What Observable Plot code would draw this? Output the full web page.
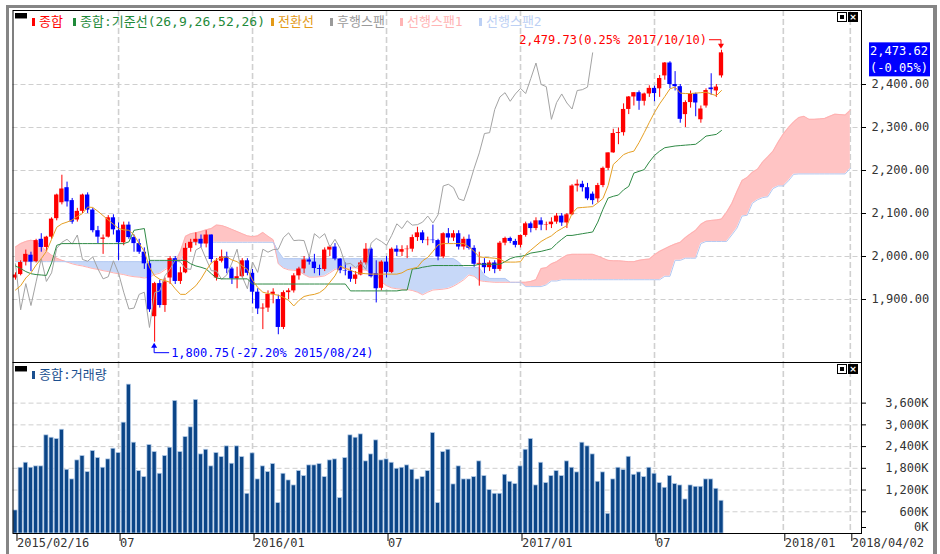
<!DOCTYPE html>
<html><head><meta charset="utf-8">
<script src="https://cdn.jsdelivr.net/npm/d3@7"></script>
<script src="https://cdn.jsdelivr.net/npm/@observablehq/plot@0.6"></script>
<style>
body{margin:0;background:#fff;}
#wrap{position:relative;width:940px;height:554px;overflow:hidden;background:#fff;font-family:"Noto Sans CJK KR",sans-serif;}
#wrap svg{position:absolute;left:0;}
.gframe{position:absolute;left:6px;top:5px;width:924px;height:600px;border-left:3px solid #858585;border-top:3px solid #858585;border-right:4px solid #858585;}
.leg{position:absolute;font-family:"DejaVu Sans Mono","Noto Sans CJK KR",monospace;font-size:13px;line-height:14px;white-space:nowrap;}
.mk{position:absolute;width:3px;height:8px;}
.icon{position:absolute;width:12px;height:5px;background:#000;border-bottom:1px solid #888;}
.btn{position:absolute;width:8px;height:8px;border:1px solid #000;background:#fff;}
.btn i{position:absolute;left:2px;top:2px;width:4px;height:4px;background:#000;}
.btnx{position:absolute;width:10px;height:10px;background:#000;color:#fff;font:bold 9px/10px "DejaVu Sans";text-align:center;}
</style></head><body><div id="wrap"><div class="gframe"></div></div>
<script>
// ---- weekly KOSPI candles (index 0 = 2015/02/16 week) ----
const opens = [1950,1958,1987,2003,1988,2040,2021,2045,2088,2125,2160,2130,2085,2105,2143,2108,2060,2040,2045,2090,2060,2032,2073,2044,2030,2010,1983,1860,1937,1886,1950,1995,1942,1962,2019,2033,2040,2029,2050,1950,1989,1999,1971,1948,1953,1990,1961,1917,1878,1880,1912,1900,1835,1916,1920,1955,1971,1992,1987,1972,1970,2015,2022,1994,1967,1966,1947,1957,1985,2017,1960,1926,1987,1963,2017,2010,2016,2017,2044,2055,2037,2038,2037,1999,2053,2043,2053,2022,2040,2019,1982,1984,1974,1985,1970,2031,2042,2035,2026,2049,2076,2065,2083,2073,2074,2080,2094,2078,2097,2164,2168,2160,2145,2134,2165,2205,2241,2286,2288,2342,2371,2381,2361,2378,2391,2390,2420,2450,2400,2395,2330,2358,2378,2318,2350,2392,2385,2420];
const highs = [1962,1990,2015,2010,2040,2053,2047,2090,2145,2189,2173,2135,2112,2145,2148,2112,2070,2050,2095,2097,2078,2080,2080,2050,2040,2020,1990,1940,1945,1950,2000,2000,1975,2030,2040,2055,2050,2060,2050,1995,2015,2010,1975,1975,1995,1995,1970,1925,1890,1920,1925,1910,1920,1925,1960,1975,2000,2000,2005,1980,2020,2025,2030,1995,1985,1975,1965,1990,2030,2020,1990,1990,2000,2020,2025,2025,2025,2050,2068,2060,2045,2073,2040,2055,2065,2060,2060,2045,2050,2025,2010,1995,1990,1990,2035,2045,2045,2040,2050,2080,2080,2090,2090,2080,2090,2100,2100,2100,2167,2178,2175,2170,2150,2170,2208,2241,2296,2299,2355,2372,2381,2385,2380,2397,2396,2421,2451,2453,2430,2400,2362,2385,2380,2350,2390,2425,2400,2479.73];
const lows = [1945,1955,1978,1965,1985,2010,2012,2040,2083,2120,2115,2075,2080,2100,2100,2055,2030,2005,2043,2050,1990,2025,2040,2010,2005,1970,1870,1800.75,1880,1870,1935,1935,1935,1960,2010,2025,2020,2020,1985,1943,1985,1960,1935,1925,1950,1955,1890,1865,1830,1870,1890,1818,1830,1900,1915,1945,1960,1980,1960,1955,1965,2000,1990,1960,1955,1940,1935,1955,1980,1950,1892,1920,1950,1960,2000,2000,1995,2010,2035,2030,2025,2030,1990,1995,2030,2035,2015,2015,2015,1975,1931,1960,1965,1960,1965,2025,2030,2020,2020,2045,2055,2060,2060,2060,2065,2075,2070,2065,2095,2150,2150,2130,2120,2125,2160,2200,2240,2260,2280,2330,2350,2340,2350,2370,2360,2370,2410,2390,2385,2310,2300,2345,2325,2310,2345,2375,2370,2415];
const closes = [1957,1986,2005,1987,2037,2021,2045,2087,2143,2157,2127,2080,2105,2143,2108,2060,2045,2043,2090,2062,2032,2073,2044,2030,2010,1983,1876,1937,1886,1941,1995,1942,1962,2019,2033,2040,2029,2050,1993,1989,1999,1971,1948,1953,1990,1961,1917,1878,1880,1912,1917,1835,1916,1920,1955,1971,1992,1987,1972,1970,2015,2022,1994,1967,1966,1947,1957,1985,2017,1953,1925,1987,1963,2017,2010,2016,2017,2044,2055,2037,2038,2037,1999,2053,2043,2053,2022,2040,2019,1982,1984,1974,1985,1970,2031,2042,2035,2026,2049,2076,2065,2083,2073,2074,2080,2094,2078,2097,2164,2168,2160,2134,2130,2165,2205,2241,2286,2288,2342,2371,2381,2361,2378,2391,2379,2414,2450,2400,2395,2319,2358,2378,2357,2343,2386,2388,2394,2473.62];
// weekly volume, thousands of shares
const volumes = [636,1816,1954,1816,1853,1853,2710,2645,2608,2866,1760,1493,2018,2138,1695,2276,2082,1816,2046,2341,2221,3061,4111,2508,1723,1557,2442,2248,1650,2138,2369,3659,2248,2663,2931,3686,2184,2313,1853,2221,2110,2406,1927,2406,2110,1097,2212,1493,1853,1695,1917,838,1650,1465,1327,1723,1585,1880,1880,1917,1557,2018,2046,977,2082,2710,2645,2737,1991,2184,2571,2018,2046,1954,1788,1816,1880,1760,1493,1557,1723,2774,838,2248,2313,1355,1853,1493,1493,1557,1991,1585,1198,1097,1097,1622,1429,1364,1853,2313,2608,1327,1954,1392,1585,1723,1585,1991,1816,1687,2508,2406,2184,1429,1687,544,1493,1816,1751,2119,1622,1687,1557,1816,1650,1392,1263,1585,1364,1327,940,1327,1290,1290,1493,1493,1235,904];
// Ichimoku lines
const conversion = [1922,1932,1950,1962,1980,1995,2012,2040,2068,2076,2080,2085,2093,2100,2115,2114,2105,2095,2085,2075,2065,2062,2061,2050,2030,2012,1975,1955,1947,1944,1940,1925,1912,1912,1922,1932,1948,1968,1985,1993,1997,1999,1992,1988,1978,1970,1945,1928,1917,1914,1912,1910,1905,1898,1885,1898,1907,1910,1912,1916,1925,1940,1955,1978,1972,1968,1963,1961,1960,1959,1959,1959,1959,1959,1959,1962,1969,1972,1975,1990,1998,2012,2027,2030,2030,2030,2030,2030,2022,2012,1999,1998,1997,1996,1994,1987,1987,1987,1988,2005,2015,2025,2035,2042,2048,2058,2065,2072,2100,2113,2114,2115,2116,2125,2135,2165,2214,2225,2237,2242,2245,2265,2288,2312,2335,2355,2372,2390,2394,2380,2379,2379,2380,2381,2382,2378,2374,2386];
const baseLine = [1978,1972,1965,1960,1958,1957,1956,1985,2026,2030,2030,2030,2030,2030,2030,2030,2030,2030,2030,2030,2030,2030,2034,2061,2063,2065,1991,1991,1991,1991,1991,1991,1991,1991,1983,1978,1975,1971,1960,1950,1948,1948,1948,1948,1948,1948,1936,1936,1936,1936,1936,1936,1936,1936,1936,1936,1936,1936,1936,1936,1936,1936,1936,1936,1936,1920,1920,1920,1920,1920,1920,1920,1920,1920,1920,1922,1922,1971,1972,1975,1977,1979,1979,1979,1979,1979,1979,1979,1979,1979,1982,1982,1982,1982,1982,1988,1995,1999,2000,2003,2008,2010,2012,2015,2018,2030,2040,2049,2049,2051,2053,2055,2057,2080,2110,2136,2140,2143,2155,2163,2194,2198,2202,2220,2235,2245,2253,2255,2257,2258,2259,2260,2261,2270,2280,2282,2284,2293];
const leadingSpan1 = [2022,2030,2035,2038,2035,2025,2012,2003,1996,1991,1987,1983,1980,1978,1975,1972,1970,1967,1965,1962,1960,1958,1955,1953,1952,1950,1952,1958,1961,1969,1976,1984,2012,2047,2053,2055,2058,2062,2065,2073,2072,2068,2063,2058,2053,2048,2046,2048,2056,2047,2039,1983,1973,1969,1968,1966,1958,1952,1952,1953,1955,1962,1970,1973,1972,1973,1974,1970,1968,1963,1959,1941,1932,1927,1925,1924,1923,1921,1917,1911,1917,1922,1923,1924,1926,1931,1938,1946,1957,1954,1944,1942,1941,1940,1940,1940,1940,1940,1940,1940,1942,1946,1972,1974,1983,1988,1996,2003,2005,2005,2005,2005,2005,2001,1996,1991,1990,1990,1989,1988,1988,1991,1993,1994,2004,2012,2018,2024,2029,2033,2044,2053,2061,2075,2082,2084,2085,2087,2103,2123,2151,2177,2184,2196,2203,2220,2232,2245,2266,2285,2300,2313,2323,2326,2319,2319,2320,2321,2326,2331,2330,2329,2340];
const leadingSpan2 = [1988,1988,1988,1988,1988,1988,1988,1988,1988,1988,1988,1988,1988,1988,1988,1988,1988,1988,1988,1988,1988,1988,1988,1988,1988,1988,1988,1988,1988,1988,1988,1988,1988,2012,2033,2033,2033,2033,2033,2033,2033,2033,2033,2033,2033,2033,2033,2033,2033,2033,2033,2012,1995,1995,1995,1995,1995,1995,1995,1995,1995,1995,1995,1995,1995,1995,1995,1995,1995,1995,1995,1995,1995,1995,1995,1995,1995,1995,1995,1995,1995,1995,1995,1995,1995,1995,1987,1974,1974,1974,1974,1956,1949,1949,1949,1949,1940,1940,1940,1930,1930,1930,1930,1934,1943,1943,1946,1946,1946,1946,1946,1946,1946,1946,1946,1946,1946,1946,1946,1946,1946,1946,1946,1946,1946,1946,1954,1954,1991,1991,1996,1996,1996,2030,2035,2035,2035,2035,2035,2050,2066,2094,2096,2124,2132,2137,2139,2158,2164,2164,2176,2191,2192,2192,2192,2192,2192,2192,2192,2192,2192,2192,2205];
const laggingShift = 25;
// axes
const priceTicks = [1900,2000,2100,2200,2300,2400];
const volumeTicks = [600,1200,1800,2400,3000,3600];
const xTickIndex = [0,20,46,72,98,124,149,162];
const xTickLabels = ["2015/02/16","07","2016/01","07","2017/01","07","2018/01","2018/04/02"];
const legendNames = ["종합","종합:기준선(26,9,26,52,26)","전환선","후행스팬","선행스팬1","선행스팬2"];
const legendColors = ["#ff0000","#1f8a3a","#e39a17","#9a9a9a","#ffb4b4","#bcd0f4"];
const legendLeft = [32,73,271,330,400,479];
const highInfo = {i:137, v:2479.73, label:"2,479.73(0.25% 2017/10/10)"};
const lowInfo = {i:27, v:1800.75, label:"1,800.75(-27.20% 2015/08/24)"};
const lastInfo = {price:"2,473.62", change:"(-0.05%)"};

const UP="#ff0000", DN="#0000ff";
const candles = opens.map((o,i)=>({i,o,h:highs[i],l:lows[i],c:closes[i]}));
const vols = volumes.map((v,i)=>({i,v}));
const conv = conversion.map((v,i)=>({i,v}));
const base = baseLine.map((v,i)=>({i,v}));
const lag = closes.slice(laggingShift).map((v,i)=>({i,v}));
const cloud = leadingSpan1.map((s1,i)=>({i,s1,s2:leadingSpan2[i]}));

const xDomain = [-0.485, 164.17];
const dashH = {stroke:"#cfcfcf", strokeOpacity:1, strokeDasharray:"5,3"};
const dashV = {stroke:"#d0d0d0", strokeOpacity:1, strokeWidth:1.6, strokeDasharray:"6,3"};
const font = {fontFamily:"'DejaVu Sans Mono', monospace", fontSize:"12px", background:"transparent", overflow:"visible"};

const topChart = Plot.plot({
  width:940, height:362, marginTop:10, marginBottom:0, marginLeft:12.5, marginRight:79,
  x:{domain:xDomain, axis:null},
  y:{domain:[1753.5, 2572.1], axis:null},
  color:{type:"identity"},
  style:font,
  marks:[
    Plot.gridY(priceTicks, dashH),
    Plot.gridX(xTickIndex.slice(1), dashV),
    Plot.areaY(cloud, {x:"i", y1:"s2", y2:d=>Math.max(d.s1,d.s2), fill:"#ffc4c4"}),
    Plot.areaY(cloud, {x:"i", y1:"s1", y2:d=>Math.max(d.s1,d.s2), fill:"#c7d8f8"}),
    Plot.line(cloud, {x:"i", y:"s1", stroke:"#ffb0b0", strokeWidth:1}),
    Plot.line(cloud, {x:"i", y:"s2", stroke:"#b4c9f2", strokeWidth:1}),
    Plot.ruleX(candles, {x:"i", y1:"l", y2:"h", stroke:d=>d.c>=d.o?UP:DN, strokeWidth:1}),
    Plot.rect(candles, {x1:d=>d.i-0.42, x2:d=>d.i+0.42, y1:"o", y2:"c", fill:d=>d.c>=d.o?UP:DN}),
    Plot.line(lag, {x:"i", y:"v", stroke:"#a3a3a3", strokeWidth:1}),
    Plot.line(base, {x:"i", y:"v", stroke:"#2f8a45", strokeWidth:1}),
    Plot.line(conv, {x:"i", y:"v", stroke:"#e6a024", strokeWidth:1}),
    Plot.axisY(priceTicks, {anchor:"right", label:null, tickFormat:d3.format(",.2f"), tickSize:4, tickPadding:6, fill:"#333"}),
    Plot.frame({stroke:"#000"})
  ]
});
topChart.style.top = "0px";
document.getElementById("wrap").appendChild(topChart);

const volChart = Plot.plot({
  width:940, height:192, marginTop:0, marginBottom:21, marginLeft:12.5, marginRight:79,
  x:{domain:xDomain, axis:null},
  y:{domain:[0, 4722], axis:null},
  style:font,
  marks:[
    Plot.gridY(volumeTicks, dashH),
    Plot.gridX(xTickIndex.slice(1), dashV),
    Plot.rectY(vols, {x1:d=>d.i-0.4, x2:d=>d.i+0.4, y:"v", fill:"#0b4587", stroke:"#b3cbe7", strokeWidth:0.7}),
    Plot.axisY(volumeTicks, {anchor:"right", label:null, tickFormat:d=>d3.format(",")(d)+"K", textAnchor:"end", tickSize:4, tickPadding:63, fill:"#333"}),
    Plot.axisY([0], {anchor:"right", label:null, tickFormat:d=>d+"K", textAnchor:"end", tickSize:4, tickPadding:63, dy:-6, fill:"#333"}),
    Plot.axisX(xTickIndex, {anchor:"bottom", label:null, tickFormat:(d,k)=>xTickLabels[k], textAnchor:"start", tickSize:8, tickPadding:-3, dx:1.5, fill:"#333"}),
    Plot.frame({stroke:"#000"})
  ]
});
volChart.style.top = "362px";
document.getElementById("wrap").appendChild(volChart);

// annotations drawn with the chart's own scales
const sx = topChart.scale("x"), sy = topChart.scale("y");
const g = d3.select(topChart).append("g").attr("font-family","'DejaVu Sans Mono', monospace").attr("font-size",12).attr("text-anchor","start");
{
  const hx = sx.apply(highInfo.i), hy = sy.apply(highInfo.v);
  g.append("text").attr("x",hx-14).attr("y",hy-10).attr("dy","0.35em").attr("text-anchor","end").attr("fill","#ff0000").text(highInfo.label);
  g.append("path").attr("d",`M${hx-12},${hy-10}H${hx}V${hy-4}`).attr("fill","none").attr("stroke","#ff0000");
  g.append("path").attr("d",`M${hx-3},${hy-6}L${hx+3},${hy-6}L${hx},${hy-1}Z`).attr("fill","#ff0000");
  const lx = sx.apply(lowInfo.i), ly = sy.apply(lowInfo.v);
  g.append("path").attr("d",`M${lx-3},${ly+6}L${lx+3},${ly+6}L${lx},${ly+1}Z`).attr("fill","#0000ff");
  g.append("path").attr("d",`M${lx},${ly+5}V${ly+11}H${lx+15}`).attr("fill","none").attr("stroke","#0000ff");
  g.append("text").attr("x",lx+17).attr("y",ly+11).attr("dy","0.35em").attr("text-anchor","start").attr("fill","#0000ff").text(lowInfo.label);
  const cy = sy.apply(closes[closes.length-1]);
  const tx = sx.range[1];
  g.append("rect").attr("x",tx+8).attr("y",cy-10).attr("width",61).attr("height",34).attr("fill","#0000ff");
  g.append("text").attr("x",tx+38).attr("y",cy-2).attr("dy","0.35em").attr("text-anchor","middle").attr("fill","#fff").text(lastInfo.price);
  g.append("text").attr("x",tx+38).attr("y",cy+15).attr("dy","0.35em").attr("text-anchor","middle").attr("fill","#fff").text(lastInfo.change);
}

// legends and panel buttons
const wrap = document.getElementById("wrap");
function add(html){ const d=document.createElement("div"); d.innerHTML=html; wrap.appendChild(d.firstChild); }
add(`<div class="icon" style="left:15px;top:13px"></div>`);
legendNames.forEach((n,k)=>{
  add(`<div class="mk" style="left:${legendLeft[k]}px;top:18px;background:${legendColors[k]}"></div>`);
  add(`<div class="leg" style="left:${legendLeft[k]+7}px;top:15px;color:${legendColors[k]}">${n}</div>`);
});
add(`<div class="icon" style="left:15px;top:366px"></div>`);
add(`<div class="mk" style="left:32px;top:371px;background:#1a4f8f"></div>`);
add(`<div class="leg" style="left:39px;top:368px;color:#1a4f8f">종합:거래량</div>`);
[12,364].forEach(t=>{
  add(`<div class="btn" style="left:837px;top:${t}px"><i></i></div>`);
  add(`<div class="btnx" style="left:848px;top:${t}px">×</div>`);
});
</script></body></html>
